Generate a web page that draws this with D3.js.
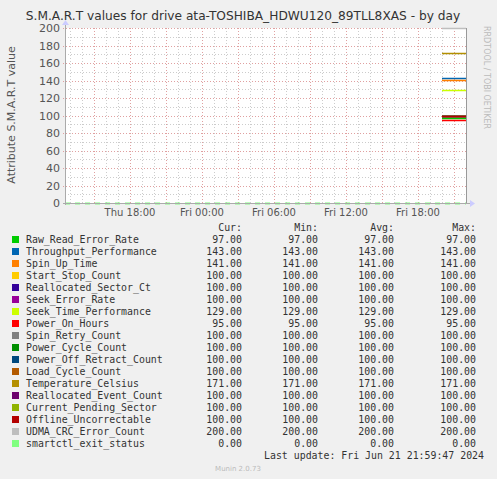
<!DOCTYPE html>
<html><head><meta charset="utf-8">
<script src="https://cdn.jsdelivr.net/npm/d3@7"></script>
<style>body{margin:0;background:#f0f0f0}</style></head>
<body><svg id="c" width="497" height="479"></svg>
<script>
const names=["Raw_Read_Error_Rate","Throughput_Performance","Spin_Up_Time","Start_Stop_Count","Reallocated_Sector_Ct","Seek_Error_Rate","Seek_Time_Performance","Power_On_Hours","Spin_Retry_Count","Power_Cycle_Count","Power_Off_Retract_Count","Load_Cycle_Count","Temperature_Celsius","Reallocated_Event_Count","Current_Pending_Sector","Offline_Uncorrectable","UDMA_CRC_Error_Count","smartctl_exit_status"];
const cur=[97,143,141,100,100,100,129,95,100,100,100,100,171,100,100,100,200,0];
const mins=cur, avgs=cur, maxs=cur;
const colors=["#00CC00","#0066B3","#FF8000","#FFCC00","#330099","#990099","#CCFF00","#FF0000","#808080","#008F00","#00487D","#B35A00","#B38F00","#6B006B","#8FB300","#B30000","#BEBEBE","#80FF80"];
const yTicks=[0,20,40,60,80,100,120,140,160,180,200];
const xLabels=["Thu 18:00","Fri 00:00","Fri 06:00","Fri 12:00","Fri 18:00"];
const tStart=new Date(2024,5,20,12,35), tEnd=new Date(2024,5,21,22,0);
const dataStart=new Date(2024,5,21,20,0);

const svg=d3.select("#c");
svg.append("rect").attr("width",497).attr("height",479).attr("fill","#f0f0f0");
const L=65,R=466,T=28,B=203;
svg.append("rect").attr("x",L).attr("y",T).attr("width",R-L).attr("height",B-T).attr("fill","#fff");
const x=d3.scaleTime().domain([tStart,tEnd]).range([L,R]);
const y=d3.scaleLinear().domain([0,200]).range([B,T]);
const g=svg.append("g");
d3.range(0,201,10).forEach(v=>{ if(v%20) g.append("line").attr("x1",L).attr("x2",R).attr("y1",Math.round(y(v))+.5).attr("y2",Math.round(y(v))+.5).attr("stroke","#ccc").attr("stroke-dasharray","1,2");});
x.ticks(d3.timeHour.every(1)).forEach(t=>{ if(t.getHours()%3) g.append("line").attr("x1",Math.round(x(t))+.5).attr("x2",Math.round(x(t))+.5).attr("y1",T).attr("y2",B).attr("stroke","#ccc").attr("stroke-dasharray","1,2");});
yTicks.forEach(v=>g.append("line").attr("x1",L-2).attr("x2",R+2).attr("y1",Math.round(y(v))+.5).attr("y2",Math.round(y(v))+.5).attr("stroke","#e0a0a0").attr("stroke-dasharray","1,2"));
x.ticks(d3.timeHour.every(3)).forEach(t=>g.append("line").attr("x1",Math.round(x(t))+.5).attr("x2",Math.round(x(t))+.5).attr("y1",T).attr("y2",B+2).attr("stroke","#e0a0a0").attr("stroke-dasharray","1,2"));
yTicks.forEach(v=>svg.append("text").attr("x",L-5).attr("y",y(v)+4).attr("text-anchor","end").attr("font-family","DejaVu Sans").attr("font-size",11).attr("fill","#555").text(v));
x.ticks(d3.timeHour.every(6)).forEach((t,i)=>{ if(i<xLabels.length) svg.append("text").attr("x",x(t)).attr("y",B+13).attr("text-anchor","middle").attr("font-family","DejaVu Sans").attr("font-size",10).attr("fill","#555").text(xLabels[i]);});
const line=d3.line().x(d=>x(d[0])).y(d=>Math.round(y(d[1]))+.5);
cur.forEach((v,i)=>{
  const pts = i===17?[[tStart,v],[tEnd,v]]:[[dataStart,v],[tEnd,v]];
  svg.append("path").attr("d",line(pts)).attr("stroke",colors[i]).attr("stroke-width",i===17?2:1.5).attr("fill","none").attr("stroke-dasharray",i===17?"5,5":null);
});
svg.append("line").attr("x1",L-2).attr("x2",R+4).attr("y1",B+.5).attr("y2",B+.5).attr("stroke","#aaa");
svg.append("path").attr("d",`M${R+4},${B-3}L${R+9},${B+.5}L${R+4},${B+4}Z`).attr("fill","#ccf");
svg.append("line").attr("x1",L+.5).attr("x2",L+.5).attr("y1",B+2).attr("y2",T-3).attr("stroke","#aaa");
svg.append("path").attr("d",`M${L-3},${T-3}L${L+.5},${T-8}L${L+4},${T-3}Z`).attr("fill","#ccf");
svg.append("line").attr("x1",R+.5).attr("x2",R+.5).attr("y1",T).attr("y2",B).attr("stroke","#999");
svg.append("text").attr("x",243).attr("y",20).attr("text-anchor","middle").attr("font-family","DejaVu Sans").attr("font-size",12.2).attr("fill","#333").text("S.M.A.R.T values for drive ata-TOSHIBA_HDWU120_89TLL8XAS - by day");
svg.append("text").attr("transform","translate(15,115) rotate(-90)").attr("text-anchor","middle").attr("font-family","DejaVu Sans").attr("font-size",11).attr("fill","#555").text("Attribute S.M.A.R.T value");
svg.append("text").attr("transform","translate(484,26) rotate(90)").attr("font-family","DejaVu Sans").attr("font-size",8).attr("fill","#bbb").text("RRDTOOL / TOBI OETIKER");
const mono={"font-family":"DejaVu Sans Mono","font-size":9.9,"fill":"#333"};
function t(xp,yp,s,anchor){const e=svg.append("text").attr("x",xp).attr("y",yp).attr("text-anchor",anchor||"start").text(s);Object.entries(mono).forEach(([k,v])=>e.attr(k,v));return e;}
const cols=[242,318,394,476];
["Cur:","Min:","Avg:","Max:"].forEach((h,j)=>t(cols[j],231,h,"end"));
names.forEach((n,i)=>{
  const yy=243+i*12;
  svg.append("rect").attr("x",12).attr("y",yy-7).attr("width",7).attr("height",7).attr("fill",colors[i]);
  t(26,yy,n);
  [cur,mins,avgs,maxs].forEach((a,j)=>t(cols[j],yy,a[i].toFixed(2),"end"));
});
t(484,459,"Last update: Fri Jun 21 21:59:47 2024","end");
svg.append("text").attr("x",238).attr("y",471).attr("text-anchor","middle").attr("font-family","DejaVu Sans").attr("font-size",7).attr("fill","#bbb").text("Munin 2.0.73");
</script></body></html>
